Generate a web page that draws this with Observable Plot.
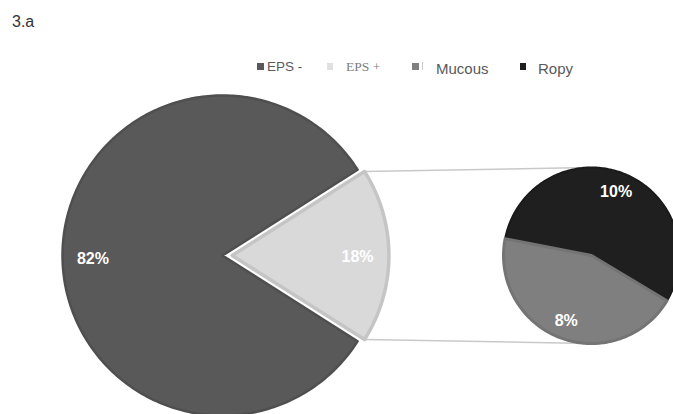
<!DOCTYPE html>
<html><head><meta charset="utf-8">
<script src="https://cdn.jsdelivr.net/npm/d3@7"></script>
<script src="https://cdn.jsdelivr.net/npm/@observablehq/plot@0.6"></script>
<style>
body{margin:0;background:#fff;}
#wrap{width:673px;}
#head{display:block;}
#chart svg{display:block;}
</style></head><body>
<div id="wrap"><svg id="head" width="673" height="85"></svg><div id="chart"></div></div>
<script>
// ---- data ----
const title = "3.a";
const categories = ["EPS -", "EPS +", "Mucous", "Ropy"];
const mainLabels = ["EPS -", "EPS +"];
const mainValues = [82, 18];
const subLabels = ["Ropy", "Mucous"];
const subValues = [10, 8];

// ---- styles ----
const fillOf = {"EPS -": "#595959", "EPS +": "#d9d9d9", "Mucous": "#7f7f7f", "Ropy": "#1f1f1f"};
const strokeOf = {"EPS -": "#4f4f4f", "EPS +": "#c5c5c5", "Mucous": "#747474", "Ropy": "#1a1a1a"};
const strokeW = {"EPS -": 2.5, "EPS +": 3.5, "Mucous": 3, "Ropy": 2};

// ---- layout (pie radius units) ----
const W = 673, H = 329;
const xDomain = [-1.3875, 2.81875], yDomain = [-0.99375, 1.0625];
const R = 1.0, RL = 0.98, explode = 0.06;
const S = {x: 2.30625, y: 0}, rs = 0.55;
const mucousMid = -111 * Math.PI / 180;

function wedge(cx, cy, r, a0, a1, key) {
  const pts = [{x: cx, y: cy, key}];
  const n = Math.max(2, Math.ceil(Math.abs(a1 - a0) / (Math.PI / 180)));
  for (let i = 0; i <= n; i++) {
    const a = a0 + (a1 - a0) * i / n;
    pts.push({x: cx + r * Math.cos(a), y: cy + r * Math.sin(a), key});
  }
  return pts;
}

const total = d3.sum(mainValues);
const otherSpan = 2 * Math.PI * mainValues[1] / total;
const ex = explode; // light slice offset along angle 0
const darkPts = wedge(0, 0, R, otherSpan / 2, 2 * Math.PI - otherSpan / 2, mainLabels[0]);
const lightPts = wedge(ex, 0, RL, -otherSpan / 2, otherSpan / 2, mainLabels[1]);

const subTotal = d3.sum(subValues);
const mucSpan = 2 * Math.PI * subValues[1] / subTotal;
const mucA0 = mucousMid - mucSpan / 2, mucA1 = mucousMid + mucSpan / 2;
const ropyA0 = mucA1, ropyA1 = mucA0 + 2 * Math.PI;
const mucPts = wedge(S.x, S.y, rs, mucA0, mucA1, subLabels[1]);
const ropyPts = wedge(S.x, S.y, rs, ropyA0, ropyA1, subLabels[0]);

const labels = [
  {x: -0.81 * R, y: -0.02, t: mainValues[0] + "%"},
  {x: ex + 0.8 * RL, y: -0.01, t: mainValues[1] + "%"},
  {x: S.x + 0.78 * rs * Math.cos((ropyA0 + ropyA1) / 2), y: S.y + 0.78 * rs * Math.sin((ropyA0 + ropyA1) / 2), t: subValues[0] + "%"},
  {x: S.x + 0.8 * rs * Math.cos(mucousMid), y: S.y + 0.8 * rs * Math.sin(mucousMid), t: subValues[1] + "%"}
];

const links = [
  {x1: ex + RL * Math.cos(otherSpan / 2), y1: RL * Math.sin(otherSpan / 2), x2: S.x - 0.02, y2: S.y + rs},
  {x1: ex + RL * Math.cos(-otherSpan / 2), y1: RL * Math.sin(-otherSpan / 2), x2: S.x - 0.02, y2: S.y - rs}
];

function slice(pts, key) {
  return Plot.line(pts, {x: "x", y: "y", fill: fillOf[key], stroke: strokeOf[key], strokeWidth: strokeW[key], curve: "linear-closed", strokeLinejoin: "round"});
}

const chart = Plot.plot({
  width: W, height: H,
  margin: 0,
  x: {domain: xDomain, axis: null},
  y: {domain: yDomain, axis: null},
  style: {background: "white"},
  marks: [
    Plot.link(links, {x1: "x1", y1: "y1", x2: "x2", y2: "y2", stroke: "#c9c9c9", strokeWidth: 1.5}),
    slice(darkPts, mainLabels[0]),
    slice(lightPts, mainLabels[1]),
    slice(ropyPts, subLabels[0]),
    slice(mucPts, subLabels[1]),
    Plot.text(labels, {x: "x", y: "y", text: "t", fill: "white", fontSize: 16, fontWeight: "bold", fontFamily: "Arial, 'Liberation Sans', sans-serif"})
  ]
});
document.getElementById("chart").appendChild(chart);

// ---- header: title + legend ----
const head = d3.select("#head");
head.append("text").attr("x", 12).attr("y", 27).attr("font-family", "Arial, 'Liberation Sans', sans-serif")
  .attr("font-size", 16).attr("fill", "#333").text(title);
const legendItems = [
  {sx: 257, sw: 7, tx: 267, ty: 71, font: "Arial, 'Liberation Sans', sans-serif", size: 13.5, color: "#5a5a5a", sq: "#595959"},
  {sx: 327, sw: 6, tx: 346, ty: 71, font: "'Liberation Serif', 'Times New Roman', serif", size: 13.5, color: "#808080", sq: "#e0e0e0"},
  {sx: 412, sw: 7, tx: 436, ty: 74, font: "Arial, 'Liberation Sans', sans-serif", size: 15, color: "#595959", sq: "#808080"},
  {sx: 520, sw: 6, tx: 538, ty: 74, font: "Arial, 'Liberation Sans', sans-serif", size: 15, color: "#595959", sq: "#1e1e1e"}
];
categories.forEach((c, i) => {
  const L = legendItems[i];
  head.append("rect").attr("x", L.sx).attr("y", 63).attr("width", L.sw).attr("height", 7).attr("fill", L.sq);
  head.append("text").attr("x", L.tx).attr("y", L.ty).attr("font-family", L.font).attr("font-size", L.size)
    .attr("fill", L.color).text(c);
});
head.append("rect").attr("x", 422).attr("y", 62).attr("width", 1).attr("height", 8).attr("fill", "#c8c8c8");
</script>
</body></html>
